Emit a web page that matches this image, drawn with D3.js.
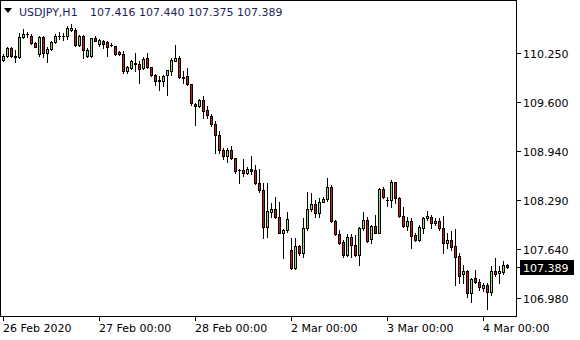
<!DOCTYPE html>
<html><head><meta charset="utf-8">
<script src="https://cdn.jsdelivr.net/npm/d3@7"></script>
<style>html,body{margin:0;padding:0;background:#fff;}svg{display:block;}</style>
</head><body>
<svg id="chart" width="580" height="340"></svg>
<script>
const symbol = "USDJPY,H1";
const lastOHLC = ["107.416", "107.440", "107.375", "107.389"];
const opens = [110.156,110.214,110.316,110.214,110.196,110.463,110.503,110.481,110.383,110.236,110.467,110.250,110.303,110.396,110.481,110.477,110.477,110.561,110.561,110.360,110.472,110.206,110.206,110.450,110.370,110.414,110.396,110.360,110.339,110.263,110.236,110.005,110.049,110.116,110.103,110.049,110.183,110.059,109.960,109.883,109.872,109.952,110.005,110.147,110.183,109.925,109.939,109.836,109.569,109.542,109.622,109.489,109.409,109.298,109.151,108.955,108.875,108.955,108.852,108.688,108.688,108.644,108.705,108.688,108.518,108.421,107.923,108.131,108.163,108.064,107.851,107.887,107.620,107.376,107.673,107.576,107.910,108.163,108.234,108.118,108.265,108.297,108.465,108.011,107.834,107.731,107.553,107.798,107.687,107.553,107.910,108.020,107.763,107.940,107.851,108.434,108.287,108.287,108.532,108.318,108.078,107.944,108.007,107.820,107.754,107.918,108.043,108.064,107.976,108.007,107.918,107.717,107.754,107.673,107.540,107.300,107.344,107.042,107.242,107.197,107.109,107.153,107.063,107.344,107.309,107.330,107.416];
const highs = [110.236,110.334,110.330,110.290,110.517,110.570,110.526,110.503,110.396,110.481,110.481,110.326,110.410,110.503,110.526,110.513,110.614,110.637,110.583,110.490,110.494,110.316,110.456,110.472,110.440,110.427,110.406,110.383,110.343,110.280,110.272,110.076,110.156,110.250,110.139,110.190,110.250,110.067,109.969,109.939,109.960,110.027,110.183,110.360,110.206,110.005,110.049,109.836,109.582,109.642,109.676,109.542,109.431,109.342,109.208,108.986,108.986,109.008,108.852,108.705,108.831,108.728,108.875,108.755,108.697,108.510,108.510,108.243,108.332,108.265,107.900,108.131,107.776,107.776,107.687,108.043,108.398,108.377,108.287,108.310,108.323,108.577,108.488,108.020,107.887,107.754,107.834,107.834,107.820,107.931,108.131,108.064,107.954,108.087,108.444,108.465,108.332,108.554,108.532,108.332,108.198,108.064,108.043,107.843,107.954,108.064,108.141,108.087,108.051,108.043,108.074,107.843,107.878,107.896,107.584,107.420,107.353,107.242,107.353,107.229,107.184,107.176,107.406,107.509,107.406,107.473,107.440];
const lows = [110.143,110.192,110.196,110.129,110.183,110.450,110.463,110.370,110.330,110.214,110.192,110.129,110.290,110.383,110.436,110.423,110.436,110.543,110.339,110.339,110.183,110.196,110.196,110.406,110.339,110.316,110.206,110.343,110.227,110.219,109.983,109.989,110.036,110.009,109.849,110.040,110.049,109.943,109.826,109.760,109.805,109.693,109.960,110.139,109.916,109.849,109.826,109.560,109.293,109.529,109.386,109.386,109.275,108.919,108.919,108.831,108.795,108.839,108.644,108.510,108.608,108.634,108.630,108.497,108.398,107.776,107.798,108.064,108.043,107.843,107.513,107.864,107.362,107.362,107.553,107.531,107.887,108.145,108.056,108.056,108.257,108.278,107.998,107.820,107.700,107.523,107.540,107.523,107.540,107.420,107.887,107.731,107.709,107.843,107.843,108.310,108.211,108.198,108.243,108.064,107.931,107.887,107.651,107.740,107.740,107.843,108.020,107.910,107.954,107.887,107.584,107.643,107.620,107.153,107.184,107.184,106.989,106.930,107.176,107.086,107.077,106.829,107.019,107.273,107.184,107.300,107.375];
const closes = [110.214,110.316,110.214,110.196,110.463,110.503,110.499,110.383,110.334,110.467,110.250,110.303,110.396,110.481,110.477,110.481,110.583,110.583,110.360,110.472,110.294,110.294,110.450,110.414,110.427,110.370,110.326,110.356,110.236,110.236,110.013,110.059,110.139,110.109,110.040,110.174,110.059,109.952,109.872,109.876,109.939,110.019,110.160,110.183,109.925,109.922,109.836,109.582,109.538,109.622,109.475,109.418,109.298,109.151,108.955,108.875,108.955,108.852,108.674,108.684,108.644,108.705,108.674,108.518,108.421,107.923,108.141,108.163,108.064,107.851,107.887,108.030,107.376,107.673,107.576,107.910,108.163,108.234,108.118,108.265,108.297,108.465,108.011,107.834,107.717,107.553,107.798,107.687,107.553,107.910,108.020,107.744,107.940,107.851,108.430,108.332,108.283,108.532,108.310,108.078,107.944,108.007,107.811,107.754,107.931,108.051,108.078,107.976,108.007,107.918,107.709,107.754,107.664,107.531,107.273,107.344,107.050,107.229,107.197,107.122,107.153,107.063,107.344,107.300,107.344,107.420,107.389];
const priceTicks = ["110.250","109.600","108.940","108.290","107.640","106.980"];
const timeLabels = ["26 Feb 2020","27 Feb 00:00","28 Feb 00:00","2 Mar 00:00","3 Mar 00:00","4 Mar 00:00"];
const timeLabelBars = [0,24,48,72,96,120];
const currentPrice = "107.389";

const svg = d3.select("#chart");
const W = 580, H = 340;
const plot = {left: 0, top: 0, right: 516, bottom: 316};
const N = closes.length;
const FONT = "DejaVu Sans, sans-serif";
const bullColor = "#a2e23c", bearColor = "#d01818", textColor = "#1e1e5a";

const x = d3.scaleLinear().domain([0, N - 1]).range([3, 3 + 4 * (N - 1)]);
const y = d3.scaleLinear().domain([106.98, 110.25]).range([298, 53]);

svg.append("rect").attr("width", W).attr("height", H).attr("fill", "#fff");

// frame
svg.append("rect").attr("x", plot.left + 0.5).attr("y", plot.top + 0.5)
  .attr("width", plot.right - plot.left).attr("height", plot.bottom - plot.top)
  .attr("fill", "none").attr("stroke", "#000").attr("stroke-width", 1);

// candles
const g = svg.append("g");
d3.range(N).forEach(i => {
  const cx = Math.round(x(i));
  const o = opens[i], c = closes[i];
  const yh = Math.round(y(highs[i])), yl = Math.round(y(lows[i]));
  g.append("line").attr("x1", cx + 0.5).attr("x2", cx + 0.5)
    .attr("y1", yh).attr("y2", yl + 1).attr("stroke", "#000").attr("stroke-width", 1);
  const yt = Math.round(y(Math.max(o, c))), yb = Math.round(y(Math.min(o, c)));
  if (yb - yt < 2) {
    g.append("rect").attr("x", cx - 1).attr("y", yt).attr("width", 3).attr("height", Math.max(1, yb - yt + 1)).attr("fill", "#000");
  } else {
    g.append("rect").attr("x", cx - 0.5).attr("y", yt + 0.5).attr("width", 2).attr("height", yb - yt)
      .attr("fill", c >= o ? bullColor : bearColor).attr("stroke", "#000").attr("stroke-width", 1);
  }
});

// price axis
const ax = svg.append("g").attr("font-family", FONT).attr("font-size", 11).attr("fill", "#000");
priceTicks.forEach(t => {
  const yy = Math.round(y(+t)) + 0.5;
  ax.append("line").attr("x1", plot.right + 1).attr("x2", plot.right + 5).attr("y1", yy).attr("y2", yy).attr("stroke", "#000");
  ax.append("text").attr("x", 523).attr("y", yy + 4).text(t);
});
// current price label
{
  const yy = Math.round(y(+currentPrice)) + 0.5;
  ax.append("line").attr("x1", plot.right + 1).attr("x2", plot.right + 5).attr("y1", yy).attr("y2", yy).attr("stroke", "#000");
  ax.append("rect").attr("x", 520).attr("y", yy - 7.5).attr("width", 54).attr("height", 15).attr("fill", "#000");
  ax.append("text").attr("x", 523).attr("y", yy + 4).attr("fill", "#fff").text(currentPrice);
}

// time axis
timeLabels.forEach((t, k) => {
  const xx = Math.round(x(timeLabelBars[k])) + 0.5;
  ax.append("line").attr("x1", xx).attr("x2", xx).attr("y1", plot.bottom + 1).attr("y2", plot.bottom + 5).attr("stroke", "#000");
  ax.append("text").attr("x", xx - 0.5).attr("y", 332).text(t);
});

// header
const hd = svg.append("g").attr("font-family", FONT).attr("font-size", 11);
hd.append("path").attr("d", "M4,8 L12,8 L8,13 Z").attr("fill", "#000");
hd.append("text").attr("x", 19).attr("y", 16).attr("fill", textColor).text(symbol);
hd.append("text").attr("x", 90).attr("y", 16).attr("fill", textColor).text(lastOHLC.join(" "));
</script>
</body></html>
